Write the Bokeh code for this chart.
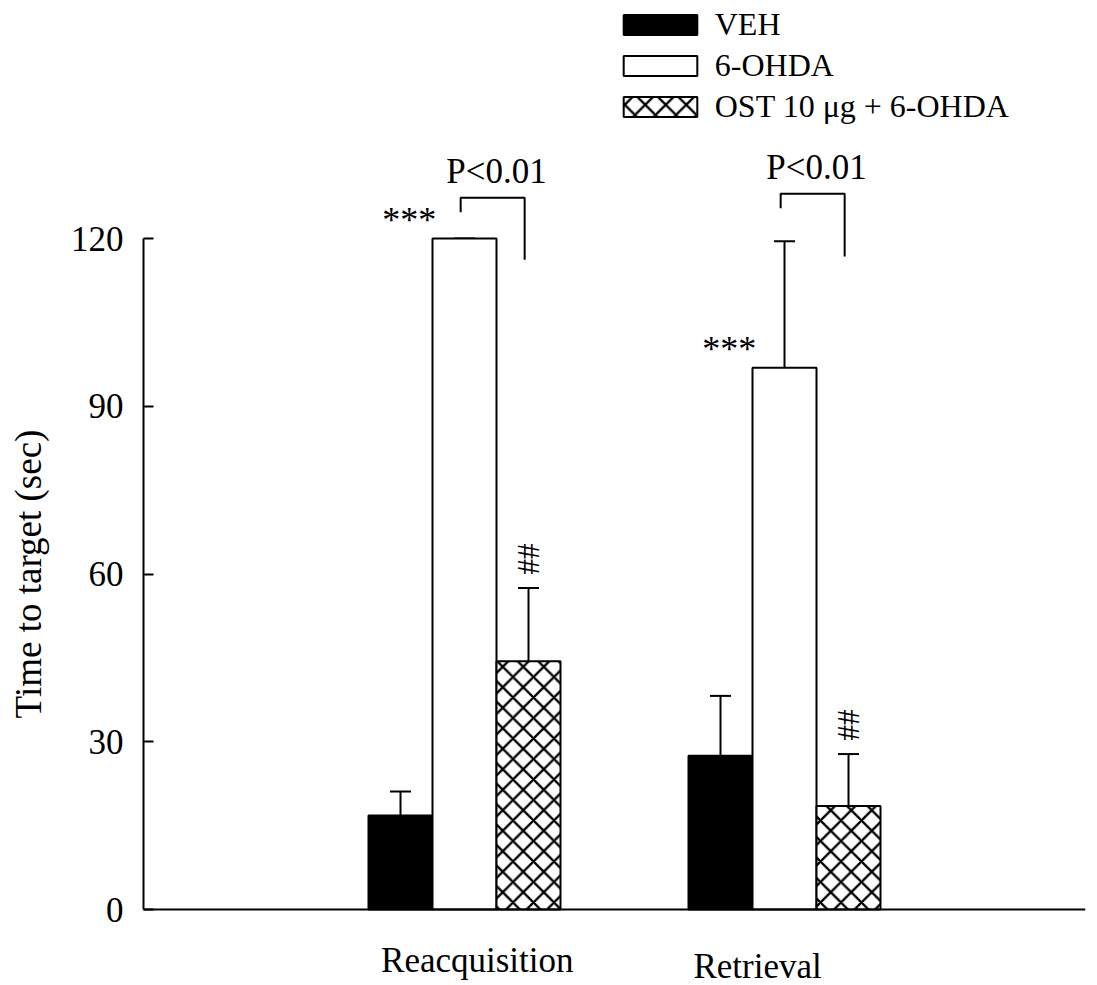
import math
from bokeh.plotting import figure
from bokeh.models import (ColumnDataSource, Range1d, FixedTicker, Whisker,
                          TeeHead, Legend, LegendItem)
from bokeh.core.properties import value
from bokeh.embed import file_html
from bokeh.resources import INLINE

# ---- data -------------------------------------------------------------
phases = ["Reacquisition", "Retrieval"]
treatments = ["VEH", "6-OHDA", "OST 10 \u03bcg + 6-OHDA"]
veh_mean = [16.8, 27.5]
veh_sem = [4.3, 10.7]
ohda_mean = [120.0, 96.9]
ohda_sem = [0.0, 22.6]
ost_mean = [44.4, 18.5]
ost_sem = [13.1, 9.3]
y_ticks = [0, 30, 60, 90, 120]
y_title = "Time to target (sec)"

stars = ["***", "***"]            # 6-OHDA vs VEH
hashes = ["##", "##"]             # OST vs 6-OHDA (set sideways)
pair_p = ["P<0.01", "P<0.01"]     # 6-OHDA vs OST bracket
bracket_top = [127.3, 128.0]
bracket_left_end = [124.7, 125.4]
bracket_right_end = [116.2, 116.8]

# ---- layout helpers ---------------------------------------------------
FONT = "Liberation Serif"
group_x = [0.0, 5.0]
bar_w = 1.0
px_per_unit_y = 671.0 / 120.0
px_per_unit_x = 64.0
axis_x = -5.0156                     # where the value axis stands
x_end = 9.703
x_start = axis_x - 143.0 / px_per_unit_x

p = figure(width=1097, height=985, output_backend="svg", toolbar_location=None,
           x_range=Range1d(x_start, x_end),
           y_range=Range1d(-76.0 / px_per_unit_y, 909.0 / px_per_unit_y),
           title=None,
           min_border_left=0, min_border_right=12,
           min_border_top=0, min_border_bottom=0)
p.outline_line_color = None
p.xgrid.visible = False
p.ygrid.visible = False

# y axis, pinned inside the frame
ax = p.yaxis[0]
ax.fixed_location = axis_x
ax.bounds = (0, 120)
ax.ticker = FixedTicker(ticks=y_ticks)
ax.minor_tick_line_color = None
ax.major_tick_in = 10
ax.major_tick_out = 0
ax.major_tick_line_width = 2
ax.axis_line_width = 2
ax.major_label_standoff = 20
ax.major_label_text_font = FONT
ax.major_label_text_font_size = "35px"
ax.major_label_text_color = "black"

# x axis: plain baseline at y = 0
bx = p.xaxis[0]
bx.fixed_location = 0
bx.bounds = (axis_x, x_end)
bx.ticker = FixedTicker(ticks=[])
bx.minor_tick_line_color = None
bx.major_tick_line_color = None
bx.major_label_text_font_size = "0px"
bx.axis_line_width = 2

# axis title, centred on the 0-120 span of the axis
p.text(x=[x_start + 28.0 / px_per_unit_x], y=[60], text=[y_title],
       angle=math.pi / 2, text_align="center", text_baseline="middle",
       text_font=value(FONT), text_font_size="37px", text_color="black")

# ---- bars --------------------------------------------------------------
series = [
    (veh_mean, veh_sem, -1, dict(fill_color="black")),
    (ohda_mean, ohda_sem, 0, dict(fill_color="white")),
    (ost_mean, ost_sem, 1, dict(fill_color="white", hatch_pattern="diagonal_cross",
                                hatch_scale=20.5, hatch_weight=2.3, hatch_color="black")),
]
renderers = []
for mean, sem, off, style in series:
    xs = [g + off * bar_w for g in group_x]
    src = ColumnDataSource(dict(x=xs, top=mean,
                                upper=[m + s for m, s in zip(mean, sem)]))
    r = p.vbar(x="x", top="top", bottom=0, width=bar_w, source=src,
               line_color="black", line_width=2, **style)
    renderers.append(r)
    p.add_layout(Whisker(source=src, base="x", upper="upper", lower="top",
                         dimension="height", line_color="black", line_width=2,
                         upper_head=TeeHead(size=21, line_color="black", line_width=2),
                         lower_head=None))

# ---- significance marks ----------------------------------------------
ohda_x = [g for g in group_x]
ost_x = [g + bar_w for g in group_x]

star_src = ColumnDataSource(dict(x=[x - 0.5 * bar_w + 0.06 for x in ohda_x],
                                 y=ohda_mean, t=stars))
p.text(x="x", y="y", text="t", source=star_src, text_align="right",
       text_baseline="middle", y_offset=-19, text_font=value(FONT),
       text_font_size="36px", text_color="black")

ost_upper = [m + s for m, s in zip(ost_mean, ost_sem)]
p.text(x=ost_x, y=ost_upper, text=hashes, angle=math.pi / 2, text_align="center",
       text_baseline="middle", y_offset=-29, text_font=value(FONT),
       text_font_size="31px", text_color="black")

b_left = [x - 0.06 for x in ohda_x]
b_right = [x - 0.06 for x in ost_x]
p.multi_line(xs=[[l, l, r, r] for l, r in zip(b_left, b_right)],
             ys=[[a, t, t, b] for a, t, b in zip(bracket_left_end, bracket_top, bracket_right_end)],
             line_color="black", line_width=2)
p.text(x=[(l + r) / 2 + 0.06 for l, r in zip(b_left, b_right)], y=bracket_top,
       text=pair_p, text_align="center", text_baseline="middle", y_offset=-26,
       text_font=value(FONT), text_font_size="35px", text_color="black")

# ---- category labels ---------------------------------------------------
label_shift = [0.2, -0.42]
label_drop = [51, 57]
cat_src = ColumnDataSource(dict(x=[g + s for g, s in zip(group_x, label_shift)],
                                y=[0, 0], t=phases, dy=label_drop))
p.text(x="x", y="y", text="t", source=cat_src, y_offset="dy", text_align="center",
       text_baseline="middle", text_font=value(FONT), text_font_size="35px",
       text_color="black")

# ---- legend ------------------------------------------------------------
legend = Legend(items=[LegendItem(label=t, renderers=[r]) for t, r in zip(treatments, renderers)],
                location=(143 + 470.75, 985 - 126.5), orientation="vertical",
                glyph_width=92, glyph_height=25, label_height=41, spacing=0,
                padding=0, margin=0, label_standoff=9,
                border_line_color=None, background_fill_alpha=0,
                label_text_font=FONT, label_text_font_size="32px",
                label_text_color="black")
p.add_layout(legend)

open("out.html", "w").write(file_html(p, INLINE))
